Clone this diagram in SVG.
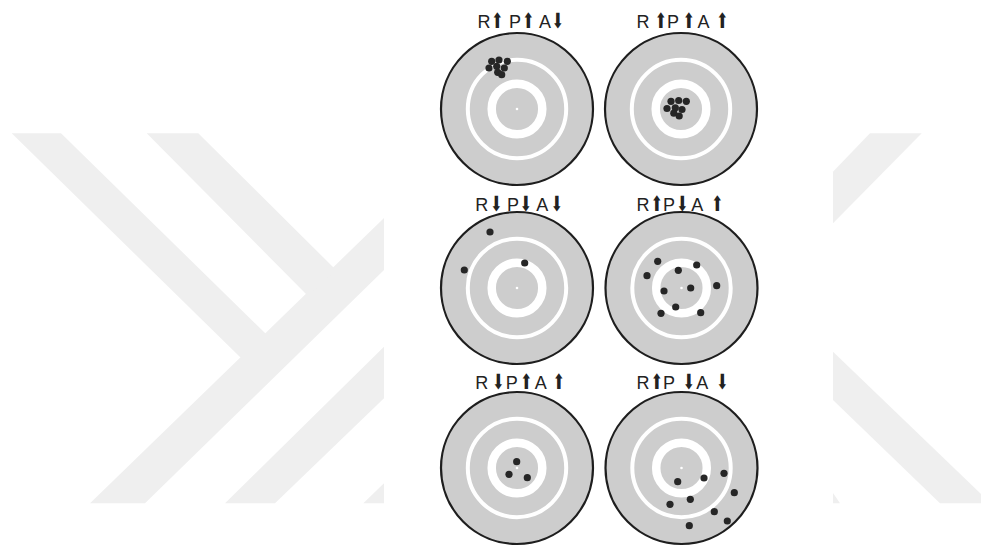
<svg xmlns="http://www.w3.org/2000/svg" width="981" height="547" viewBox="0 0 981 547">
<style>
.wm{fill:#efefef}
.face{fill:#cdcdcd;stroke:#1e1e1e;stroke-width:2.2}
.ro{fill:none;stroke:#ffffff;stroke-width:4}
.ri{fill:none;stroke:#ffffff;stroke-width:8.5}
.ctr{fill:#ffffff}
.dot{fill:#262626}
.lbl{font-family:"Liberation Sans",Arial,sans-serif;font-size:18px;fill:#222222;text-anchor:middle}
.arr{font-family:"DejaVu Sans",sans-serif;font-size:21px;fill:#222222;text-anchor:middle}
</style>
<rect width="981" height="547" fill="#ffffff"/>
<g id="watermark">
<polygon class="wm" points="11.7,133.3 61,133.3 266,334 241,358"/>
<polygon class="wm" points="90,503.3 145,503.3 384,270 384,218"/>
<polygon class="wm" points="146.7,133.3 198.3,133.3 336,270 308,296"/>
<polygon class="wm" points="225,503.3 275,503.3 384,398.3 384,346.7"/>
<polygon class="wm" points="363.3,503.3 384,503.3 384,483.3"/>
<polygon class="wm" points="870,133.3 921.7,133.3 833,223.3 833,171.7"/>
<polygon class="wm" points="833,351.7 981,494 981,503.3 940,503.3 833,400"/>
<polygon class="wm" points="833,493 840,503.3 833,503.3"/>
</g>
<g id="target1">
<text class="lbl" x="484" y="28">R</text>
<text class="arr" transform="translate(497.5,28) scale(0.7,1)">⬆</text>
<text class="lbl" x="515" y="28">P</text>
<text class="arr" transform="translate(528.5,28) scale(0.7,1)">⬆</text>
<text class="lbl" x="545" y="28">A</text>
<text class="arr" transform="translate(558,28) scale(0.7,1)">⬇</text>
<circle class="face" cx="517" cy="109" r="76"/>
<circle class="ro" cx="517" cy="109" r="49.2"/>
<circle class="ri" cx="517" cy="109" r="25.3"/>
<circle class="ctr" cx="517" cy="109" r="1.3"/>
<circle class="dot" cx="491.7" cy="61.3" r="3.6"/>
<circle class="dot" cx="499" cy="60" r="3.6"/>
<circle class="dot" cx="507.3" cy="61.3" r="3.6"/>
<circle class="dot" cx="489" cy="68" r="3.6"/>
<circle class="dot" cx="496.7" cy="66.3" r="3.6"/>
<circle class="dot" cx="504.3" cy="68" r="3.6"/>
<circle class="dot" cx="497.7" cy="72.3" r="3.6"/>
<circle class="dot" cx="501.7" cy="74.7" r="3.6"/>
</g>
<g id="target2">
<text class="lbl" x="643" y="28">R</text>
<text class="arr" transform="translate(661,28) scale(0.7,1)">⬆</text>
<text class="lbl" x="673" y="28">P</text>
<text class="arr" transform="translate(689,28) scale(0.7,1)">⬆</text>
<text class="lbl" x="703.5" y="28">A</text>
<text class="arr" transform="translate(722.5,28) scale(0.7,1)">⬆</text>
<circle class="face" cx="681" cy="109" r="76"/>
<circle class="ro" cx="681" cy="109" r="49.2"/>
<circle class="ri" cx="681" cy="109" r="25.3"/>
<circle class="ctr" cx="681" cy="109" r="1.3"/>
<circle class="dot" cx="671" cy="101.3" r="3.6"/>
<circle class="dot" cx="678.7" cy="100.5" r="3.6"/>
<circle class="dot" cx="686.3" cy="101.3" r="3.6"/>
<circle class="dot" cx="667" cy="108.5" r="3.6"/>
<circle class="dot" cx="675.3" cy="107.8" r="3.6"/>
<circle class="dot" cx="682" cy="109.5" r="3.6"/>
<circle class="dot" cx="673.8" cy="113.2" r="3.6"/>
<circle class="dot" cx="679.2" cy="116" r="3.6"/>
</g>
<g id="target3">
<text class="lbl" x="481.7" y="211">R</text>
<text class="arr" transform="translate(496.5,211) scale(0.7,1)">⬇</text>
<text class="lbl" x="513" y="211">P</text>
<text class="arr" transform="translate(525.8,211) scale(0.7,1)">⬇</text>
<text class="lbl" x="542.3" y="211">A</text>
<text class="arr" transform="translate(557,211) scale(0.7,1)">⬇</text>
<circle class="face" cx="517" cy="288" r="76"/>
<circle class="ro" cx="517" cy="288" r="49.2"/>
<circle class="ri" cx="517" cy="288" r="25.3"/>
<circle class="ctr" cx="517" cy="288" r="1.3"/>
<circle class="dot" cx="490" cy="232" r="3.6"/>
<circle class="dot" cx="464.3" cy="270" r="3.6"/>
<circle class="dot" cx="524.7" cy="263" r="3.6"/>
</g>
<g id="target4">
<text class="lbl" x="643" y="211">R</text>
<text class="arr" transform="translate(657,211) scale(0.7,1)">⬆</text>
<text class="lbl" x="669" y="211">P</text>
<text class="arr" transform="translate(682.5,211) scale(0.7,1)">⬇</text>
<text class="lbl" x="697.3" y="211">A</text>
<text class="arr" transform="translate(717.3,211) scale(0.7,1)">⬆</text>
<circle class="face" cx="681.5" cy="288" r="76"/>
<circle class="ro" cx="681.5" cy="288" r="49.2"/>
<circle class="ri" cx="681.5" cy="288" r="25.3"/>
<circle class="ctr" cx="681.5" cy="288" r="1.3"/>
<circle class="dot" cx="657.7" cy="261.3" r="3.6"/>
<circle class="dot" cx="696.7" cy="265" r="3.6"/>
<circle class="dot" cx="647" cy="275.7" r="3.6"/>
<circle class="dot" cx="678.3" cy="270.3" r="3.6"/>
<circle class="dot" cx="716.7" cy="285.7" r="3.6"/>
<circle class="dot" cx="664" cy="291" r="3.6"/>
<circle class="dot" cx="690.7" cy="288" r="3.6"/>
<circle class="dot" cx="675.7" cy="307" r="3.6"/>
<circle class="dot" cx="661" cy="313.3" r="3.6"/>
<circle class="dot" cx="700.7" cy="312.7" r="3.6"/>
</g>
<g id="target5">
<text class="lbl" x="481.7" y="389">R</text>
<text class="arr" transform="translate(498.3,389) scale(0.7,1)">⬇</text>
<text class="lbl" x="511.7" y="389">P</text>
<text class="arr" transform="translate(526.5,389) scale(0.7,1)">⬆</text>
<text class="lbl" x="540.8" y="389">A</text>
<text class="arr" transform="translate(559,389) scale(0.7,1)">⬆</text>
<circle class="face" cx="517" cy="468" r="76"/>
<circle class="ro" cx="517" cy="468" r="49.2"/>
<circle class="ri" cx="517" cy="468" r="25.3"/>
<circle class="ctr" cx="517" cy="468" r="1.3"/>
<circle class="dot" cx="516.7" cy="461.7" r="3.6"/>
<circle class="dot" cx="509" cy="474.3" r="3.6"/>
<circle class="dot" cx="527.3" cy="477.7" r="3.6"/>
</g>
<g id="target6">
<text class="lbl" x="643" y="389">R</text>
<text class="arr" transform="translate(657,389) scale(0.7,1)">⬆</text>
<text class="lbl" x="669" y="389">P</text>
<text class="arr" transform="translate(689,389) scale(0.7,1)">⬇</text>
<text class="lbl" x="702.3" y="389">A</text>
<text class="arr" transform="translate(722.5,389) scale(0.7,1)">⬇</text>
<circle class="face" cx="681.5" cy="468" r="76"/>
<circle class="ro" cx="681.5" cy="468" r="49.2"/>
<circle class="ri" cx="681.5" cy="468" r="25.3"/>
<circle class="ctr" cx="681.5" cy="468" r="1.3"/>
<circle class="dot" cx="724" cy="473.3" r="3.6"/>
<circle class="dot" cx="704" cy="478" r="3.6"/>
<circle class="dot" cx="677.7" cy="481.7" r="3.6"/>
<circle class="dot" cx="734.3" cy="492.7" r="3.6"/>
<circle class="dot" cx="690.3" cy="499.3" r="3.6"/>
<circle class="dot" cx="670" cy="504.3" r="3.6"/>
<circle class="dot" cx="714.3" cy="511.7" r="3.6"/>
<circle class="dot" cx="727.3" cy="521" r="3.6"/>
<circle class="dot" cx="689.3" cy="525.7" r="3.6"/>
</g>
</svg>
